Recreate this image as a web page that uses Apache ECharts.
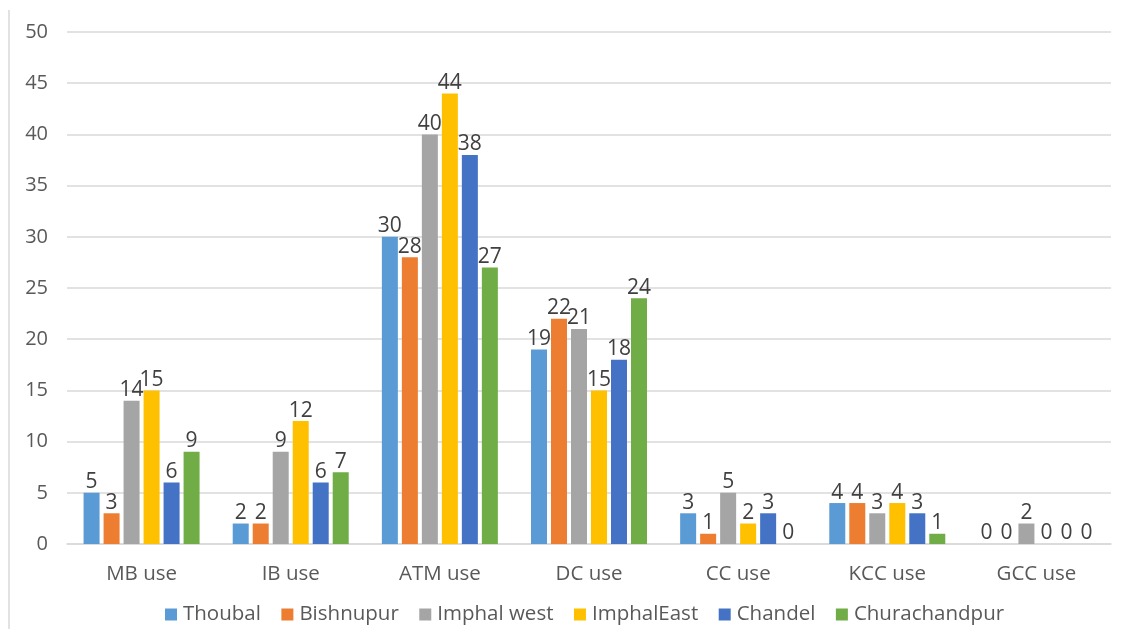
<!DOCTYPE html>
<html>
<head>
<meta charset="utf-8">
<script src="https://cdn.jsdelivr.net/npm/echarts@6/dist/echarts.min.js"></script>
<style>
  html, body { margin: 0; padding: 0; background: #fff; }
  #chart { width: 1125px; height: 629px; }
</style>
</head>
<body>
<div id="chart"></div>
<script>
  // categories and series values
  var categories = ['MB use', 'IB use', 'ATM use', 'DC use', 'CC use', 'KCC use', 'GCC use'];
  var thoubal = [5, 2, 30, 19, 3, 4, 0];
  var bishnupur = [3, 2, 28, 22, 1, 4, 0];
  var imphalWest = [14, 9, 40, 21, 5, 3, 2];
  var imphalEast = [15, 12, 44, 15, 2, 4, 0];
  var chandel = [6, 6, 38, 18, 3, 3, 0];
  var churachandpur = [9, 7, 27, 24, 0, 1, 0];
  var yTicks = [0, 5, 10, 15, 20, 25, 30, 35, 40, 45, 50];

  var font = '"Open Sans", Lato, sans-serif';

  function bar(name, data) {
    return {
      name: name,
      type: 'bar',
      data: data,
      barWidth: 16,
      barGap: '25%',
      label: {
        show: true,
        position: 'top',
        distance: 0,
        color: '#404040',
        fontSize: 21,
        fontFamily: font
      }
    };
  }

  var chartObj = echarts.init(document.getElementById('chart'));
  chartObj.setOption({
    animation: false,
    color: ['#5B9BD5', '#ED7D31', '#A5A5A5', '#FFC000', '#4472C4', '#70AD47'],
    textStyle: { fontFamily: font },
    grid: { left: 67, right: 14, top: 32, bottom: 85, containLabel: false },
    legend: {
      left: 165,
      top: 604,
      padding: 0,
      itemWidth: 12,
      itemHeight: 12,
      itemGap: 20.5,
      icon: 'rect',
      textStyle: { color: '#595959', fontSize: 20.5, fontFamily: font, padding: [0, 0, 0, 1] }
    },
    xAxis: {
      type: 'category',
      data: categories,
      axisLine: { lineStyle: { color: '#D9D9D9', width: 1.5 } },
      axisTick: { show: false },
      axisLabel: { color: '#595959', fontSize: 20.5, margin: 20 }
    },
    yAxis: {
      type: 'value',
      min: yTicks[0],
      max: yTicks[yTicks.length - 1],
      interval: 5,
      axisLine: { show: false },
      axisTick: { show: false },
      axisLabel: { color: '#595959', fontSize: 20, margin: 19 },
      splitLine: { lineStyle: { color: '#D9D9D9', width: 1.5 } }
    },
    graphic: [{
      type: 'line',
      shape: { x1: 9, y1: 10, x2: 9, y2: 629 },
      style: { stroke: '#D9D9D9', lineWidth: 1.5 }
    }],
    series: [
      bar('Thoubal', thoubal),
      bar('Bishnupur', bishnupur),
      bar('Imphal west', imphalWest),
      bar('ImphalEast', imphalEast),
      bar('Chandel', chandel),
      bar('Churachandpur', churachandpur)
    ]
  });
</script>
</body>
</html>
